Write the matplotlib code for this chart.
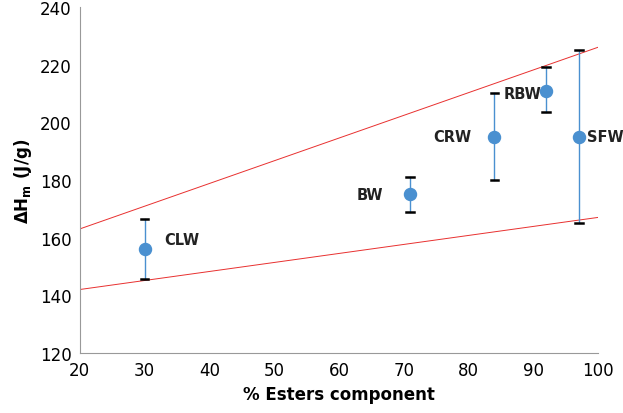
import matplotlib.pyplot as plt

labels = ["CLW", "BW", "CRW", "RBW", "SFW"]
esters = [30, 71, 84, 92, 97]
dh = [156, 175, 195, 211, 195]
err_low = [145.5, 169, 180, 203.5, 165]
err_high = [166.5, 181, 210, 219, 225]

upper_x = [20, 100]
upper_y = [163, 226]
lower_x = [20, 100]
lower_y = [142, 167]

# label anchor positions in data units
label_x = [33, 66.8, 80.5, 91.2, 98.3]
label_y = [159.5, 175, 195, 210, 195]
label_ha = ["left", "right", "right", "right", "left"]

fig = plt.figure(figsize=(6.23, 4.14), dpi=100)
ax = fig.add_axes([0.128, 0.145, 0.832, 0.836])

ax.plot(upper_x, upper_y, color="#e8302f", lw=0.7)
ax.plot(lower_x, lower_y, color="#e8302f", lw=0.7)

blue = "#4a90d0"
for x, lo, hi in zip(esters, err_low, err_high):
    ax.plot([x, x], [lo, hi], color=blue, lw=1)
    ax.plot([x - 0.6, x + 0.6], [lo, lo], color="black", lw=1.8)
    ax.plot([x - 0.6, x + 0.6], [hi, hi], color="black", lw=1.8)
ax.scatter(esters, dh, s=75, color=blue, zorder=3)

for x, y, t, ha in zip(label_x, label_y, labels, label_ha):
    ax.text(x, y, t, ha=ha, va="center", fontsize=10.5, fontweight="bold",
            color="#222222", clip_on=False)

ax.set_xlim(20, 100)
ax.set_ylim(120, 240)
ax.set_xticks(range(20, 101, 10))
ax.set_yticks(range(120, 241, 20))
ax.tick_params(labelsize=12, length=0, pad=6)
for s in ["top", "right"]:
    ax.spines[s].set_visible(False)
for s in ["left", "bottom"]:
    ax.spines[s].set_color("#999999")
ax.set_xlabel("% Esters component", fontsize=12, fontweight="bold")
ax.set_ylabel(r"$\mathbf{\Delta H_m}$ (J/g)", fontsize=12, fontweight="bold")

fig.savefig("out.png", dpi=100)
